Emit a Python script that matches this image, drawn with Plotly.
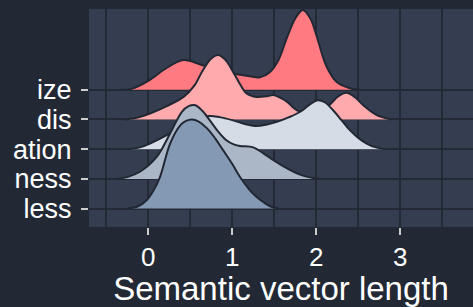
import plotly.graph_objects as go

categories = ["less", "ness", "ation", "dis", "ize"]
colors = {"ize": "#ff7b81", "dis": "#ffaaad", "ation": "#d5dce6", "ness": "#abb6c7", "less": "#8499b4"}

ize_x = [-0.35, -0.2, 0.0, 0.2, 0.42, 0.62, 0.8, 1.0, 1.15, 1.33, 1.45, 1.55, 1.65, 1.75, 1.84, 1.93, 2.0, 2.12, 2.24, 2.4, 2.5]
ize_h = [0, 0.03, 0.3, 0.7, 1.0, 0.85, 0.68, 0.55, 0.48, 0.42, 0.6, 1.0, 1.75, 2.4, 2.69, 2.4, 1.85, 0.8, 0.27, 0.05, 0]

dis_x = [-0.3, -0.15, 0.02, 0.22, 0.42, 0.55, 0.65, 0.75, 0.83, 0.92, 1.01, 1.1, 1.17, 1.29, 1.4, 1.49, 1.58, 1.65, 1.77, 1.9, 2.05, 2.16, 2.26, 2.36, 2.46, 2.56, 2.72, 2.9]
dis_h = [0, 0.05, 0.2, 0.45, 0.76, 1.15, 1.66, 2.05, 2.17, 2.0, 1.6, 1.15, 0.88, 0.76, 0.78, 0.82, 0.72, 0.6, 0.31, 0.22, 0.3, 0.5, 0.78, 0.9, 0.75, 0.48, 0.15, 0]

ation_x = [-0.25, -0.1, 0.02, 0.22, 0.4, 0.55, 0.73, 0.85, 1.01, 1.15, 1.27, 1.4, 1.53, 1.67, 1.81, 1.92, 2.02, 2.1, 2.2, 2.3, 2.4, 2.5, 2.6, 2.7, 2.82]
ation_h = [0, 0.06, 0.19, 0.47, 0.8, 1.0, 1.12, 1.08, 0.97, 0.85, 0.78, 0.82, 0.92, 1.07, 1.26, 1.5, 1.65, 1.58, 1.31, 0.98, 0.64, 0.38, 0.19, 0.07, 0]

ness_x = [-0.38, -0.25, -0.1, 0.1, 0.26, 0.4, 0.48, 0.56, 0.64, 0.73, 0.83, 0.93, 1.01, 1.09, 1.25, 1.37, 1.49, 1.61, 1.73, 1.85, 1.96, 2.05]
ness_h = [0, 0.06, 0.24, 0.74, 1.53, 2.26, 2.45, 2.48, 2.3, 1.98, 1.6, 1.3, 1.17, 1.11, 1.06, 0.86, 0.63, 0.42, 0.24, 0.1, 0.03, 0]

less_x = [-0.25, -0.12, -0.02, 0.06, 0.14, 0.26, 0.38, 0.45, 0.52, 0.6, 0.7, 0.8, 0.89, 1.0, 1.09, 1.2, 1.29, 1.38, 1.45, 1.55]
less_h = [0, 0.08, 0.28, 0.6, 1.07, 2.19, 2.8, 2.95, 3.0, 2.93, 2.7, 2.35, 1.97, 1.5, 1.07, 0.65, 0.39, 0.2, 0.08, 0]

series = {
    "ize": (ize_x, ize_h),
    "dis": (dis_x, dis_h),
    "ation": (ation_x, ation_h),
    "ness": (ness_x, ness_h),
    "less": (less_x, less_h),
}

OUTLINE = "#222833"
GRID = "#232a36"
fig = go.Figure()

# draw top ridge first so lower ridges overlap it
for name in ["ize", "dis", "ation", "ness", "less"]:
    xs, hs = series[name]
    base = categories.index(name) + 1
    fig.add_trace(go.Scatter(x=xs, y=[base] * len(xs), mode="lines",
                             line=dict(width=0), hoverinfo="skip", showlegend=False))
    fig.add_trace(go.Scatter(x=xs, y=[base + h for h in hs], mode="lines",
                             line=dict(color=OUTLINE, width=2, shape="spline", smoothing=1),
                             fill="tonexty", fillcolor=colors[name],
                             hoverinfo="skip", showlegend=False))

font_family = "Liberation Sans, Arial, sans-serif"
fig.update_layout(
    width=473, height=307,
    margin=dict(l=89, r=0, t=9, b=80),
    paper_bgcolor="#222935",
    plot_bgcolor="#343e50",
    font=dict(family=font_family, color="white"),
    showlegend=False,
    xaxis=dict(
        range=[-0.706, 3.866], tickvals=[0, 1, 2, 3], ticktext=["0", "1", "2", "3"],
        showgrid=True, gridcolor=GRID, gridwidth=2, zeroline=False,
        minor=dict(tickvals=[-0.5, 0.5, 1.5, 2.5, 3.5], showgrid=True, gridcolor=GRID, gridwidth=2),
        ticks="outside", ticklen=7, tickwidth=2, tickcolor="#cccccc",
        tickfont=dict(size=26, color="white", family=font_family),
        ticklabelstandoff=0,
        title=dict(text="Semantic vector length", font=dict(size=33, color="white", family=font_family), standoff=6),
        showline=False, automargin=False,
    ),
    yaxis=dict(
        range=[0.38, 7.72], tickvals=[1, 2, 3, 4, 5], ticktext=categories,
        showgrid=True, gridcolor=GRID, gridwidth=2, zeroline=False,
        ticks="outside", ticklen=7, tickwidth=2, tickcolor="#cccccc",
        tickfont=dict(size=27, color="white", family=font_family),
        ticklabelstandoff=4,
        showline=False, automargin=False,
    ),
)

fig.write_html(
    "out.html",
    config={"displayModeBar": False},
    post_script="document.body.style.margin='0';document.body.style.padding='0';"
                "document.body.style.background='#222935';document.body.style.overflow='hidden';",
)
